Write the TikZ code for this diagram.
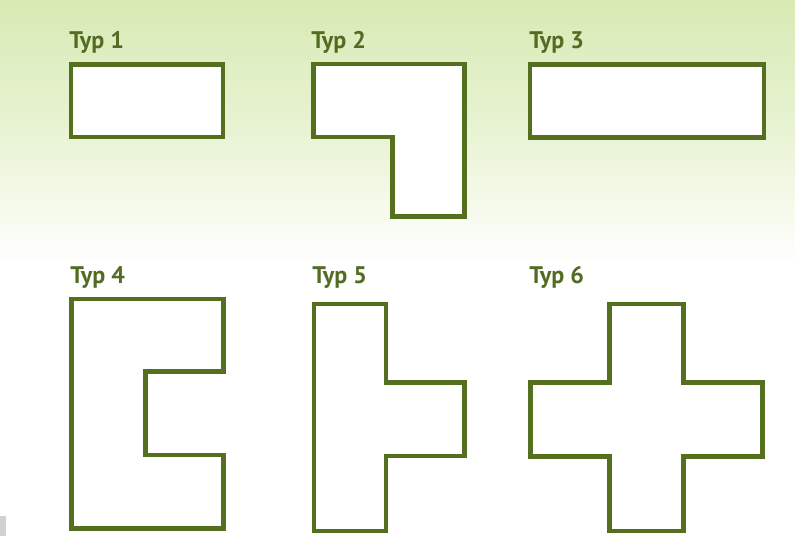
\documentclass[tikz,border=0pt]{standalone}
\usepackage{fontspec}
\setmainfont{PT Sans}
\definecolor{olive}{RGB}{84,112,30}
\definecolor{bgtop}{RGB}{216,234,180}
\definecolor{bgmid}{RGB}{234,244,214}
\definecolor{labelgreen}{RGB}{82,108,34}
\begin{document}
\begin{tikzpicture}[x=0.75pt,y=-0.75pt,
  shapeline/.style={draw=olive,line width=3.6pt,fill=white,line join=miter},
  typlabel/.style={anchor=base west,inner sep=0pt,text=labelgreen,font=\bfseries\fontsize{18}{20}\selectfont}]
\useasboundingbox (0,0) rectangle (795,536);
\fill[white] (0,0) rectangle (795,536);
\shade[top color=bgtop,bottom color=bgmid] (0,0) rectangle (795,140);
\shade[top color=bgmid,bottom color=white] (0,140) rectangle (795,265);
\fill[black!18] (0,516) rectangle (6,536);
% labels
\node[typlabel] (t1) at (69,48.5) {Typ 1};
\node[typlabel] (t2) at (311,48.5) {Typ 2};
\node[typlabel] (t3) at (529,48.5) {Typ 3};
\node[typlabel] (t4) at (70,283.5) {Typ 4};
\node[typlabel] (t5) at (312,283.5) {Typ 5};
\node[typlabel] (t6) at (529,283.5) {Typ 6};
% Typ 1
\draw[shapeline] (71,64.5) rectangle (223,137);
% Typ 2
\draw[shapeline] (313.5,64) -- (464.5,64) -- (464.5,216.5) -- (392.5,216.5) -- (392.5,137) -- (313.5,137) -- cycle;
% Typ 3
\draw[shapeline] (530,64.5) rectangle (764,137.5);
% Typ 4
\draw[shapeline] (71.5,299) -- (223.5,299) -- (223.5,371.7) -- (145.7,371.7) -- (145.7,455) -- (223.5,455) -- (223.5,528.5) -- (71.5,528.5) -- cycle;
% Typ 5
\draw[shapeline] (314,304) -- (386,304) -- (386,382.7) -- (464.5,382.7) -- (464.5,456) -- (386,456) -- (386,531) -- (314,531) -- cycle;
% Typ 6
\draw[shapeline] (609.3,304) -- (683.3,304) -- (683.3,382.3) -- (762.7,382.3) -- (762.7,456.7) -- (683.3,456.7) -- (683.3,531) -- (609.3,531) -- (609.3,456.7) -- (530.7,456.7) -- (530.7,382.3) -- (609.3,382.3) -- cycle;
\end{tikzpicture}
\end{document}
